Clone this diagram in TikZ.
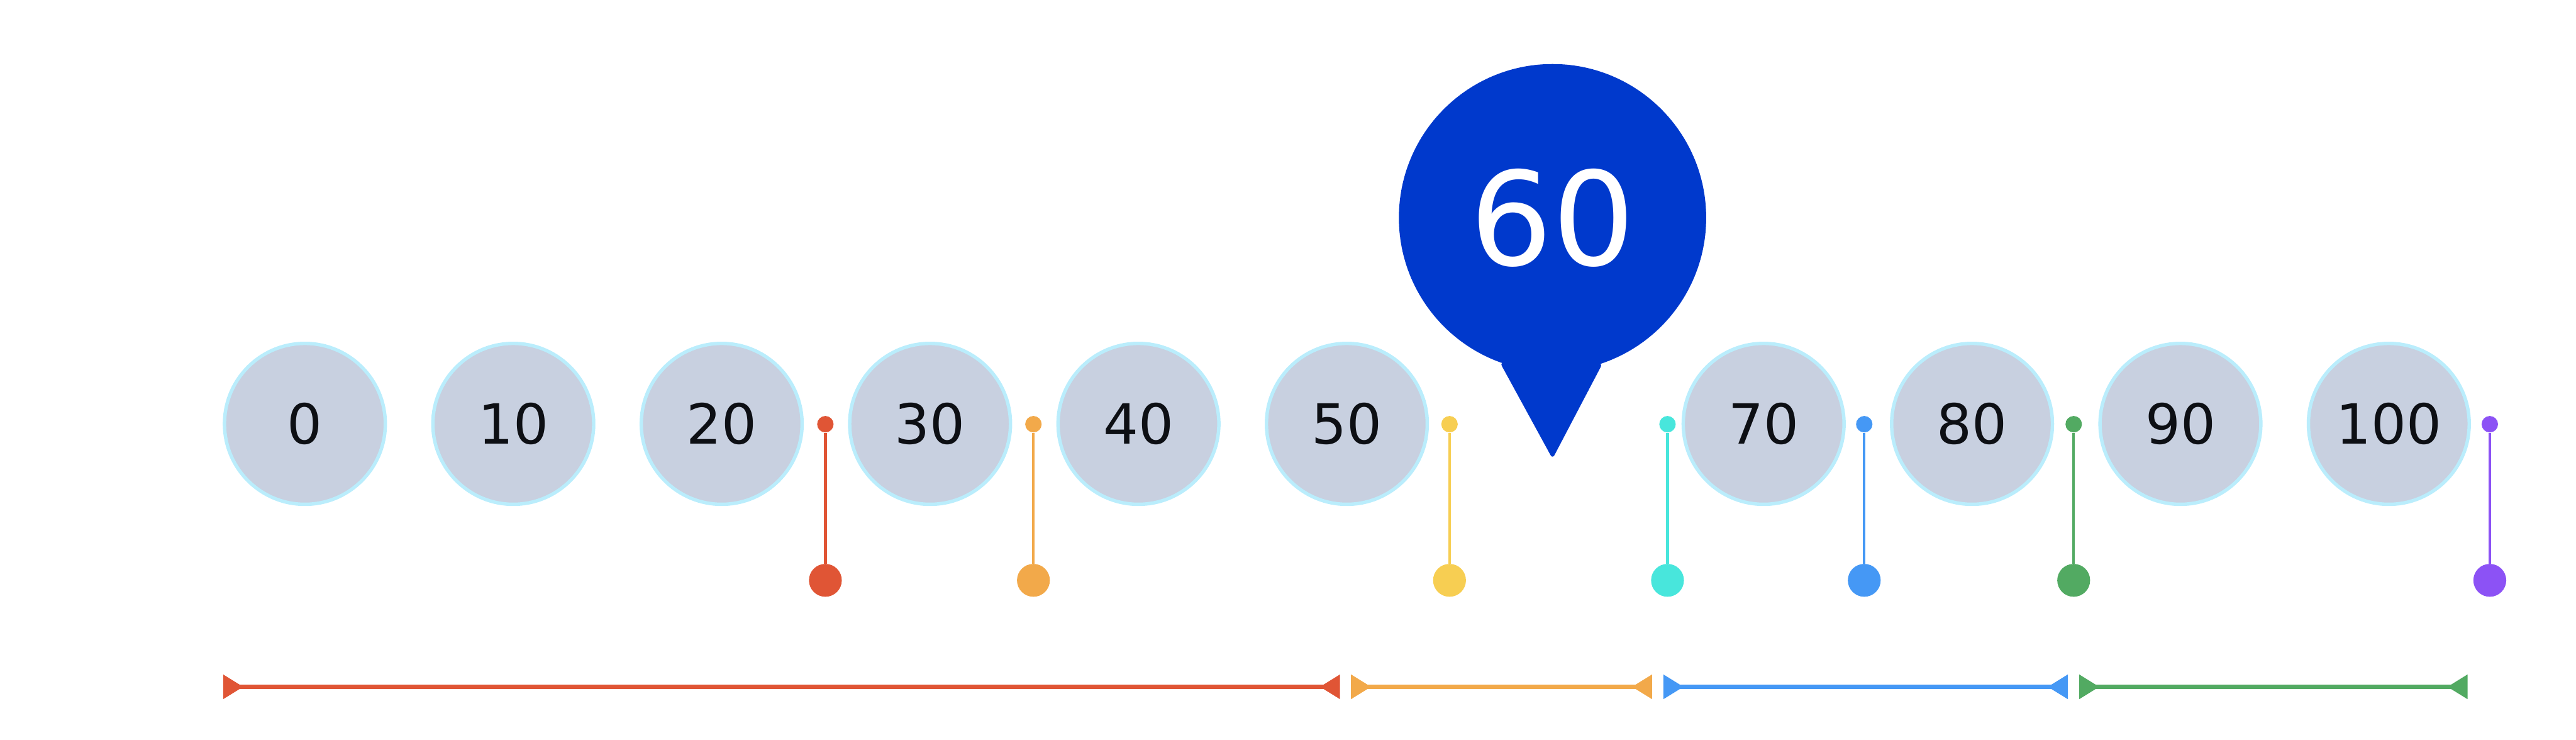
\documentclass[tikz,border=0pt]{standalone}
\usepackage{fontspec}
\setmainfont{DejaVu Sans}
\usepackage{tikz}
\usetikzlibrary{arrows.meta,positioning,calc}
\definecolor{ScaleFill}{HTML}{C8D0E0}
\definecolor{ScaleRing}{HTML}{BAEDFC}
\definecolor{ScaleInk}{HTML}{0D0F14}
\definecolor{ScalePin}{HTML}{0039CC}
\definecolor{ScaleRed}{HTML}{E05535}
\definecolor{ScaleOrange}{HTML}{F2A94A}
\definecolor{ScaleYellow}{HTML}{F7CE52}
\definecolor{ScaleTeal}{HTML}{48E6DC}
\definecolor{ScaleBlue}{HTML}{4598F5}
\definecolor{ScaleGreen}{HTML}{52AA62}
\definecolor{ScalePurple}{HTML}{8C52F5}

\begin{document}
\begin{tikzpicture}[
  every node/.style={font=\fontsize{46}{54}\selectfont},
  tick/.style={circle, draw=ScaleRing, fill=ScaleFill, line width=0.1cm, minimum size=4.7cm, inner sep=0pt, text=ScaleInk},
  pindot/.style={circle, fill=#1, inner sep=0pt, minimum size=0.48cm},
  pinbase/.style={circle, fill=#1, inner sep=0pt, minimum size=0.96cm},
  markline/.style={line width=0.08cm, color=#1},
  tag/.style={font=\fontsize{18}{22}\selectfont, text=white},
  bandline/.style={{Triangle[reversed,length=0.59cm,width=0.69cm]}-{Triangle[reversed,length=0.59cm,width=0.69cm]}, line width=0.12cm, color=#1}
]
\useasboundingbox (0,0) rectangle (75.28,-21.6);

% scale values
\foreach \v in {0,10,20,30,40,50,70,80,90,100}
  \node[tick] (t\v) at ({8.91+0.609*\v},-12.38) {\v};

% the score pin
\node[circle, fill=ScalePin, minimum size=8.98cm, inner sep=0pt, text=white, font=\fontsize{108}{120}\selectfont] (pin) at (45.37,-6.36) {60};
\coordinate (pintip) at (45.37,-13.40);
\fill[ScalePin, rounded corners=0.12cm] (pin.250.2) -- (pintip) -- (pin.289.8) -- cycle;

% adjective markers
\foreach \x/\c/\n/\txt in {24.12/ScaleRed/a/Worst imaginable, 30.20/ScaleOrange/b/Poor, 42.36/ScaleYellow/c/OK, 48.73/ScaleTeal/d/Truly remarkable, 54.48/ScaleBlue/e/Good, 60.60/ScaleGreen/f/Excellent, 72.76/ScalePurple/g/Best imaginable}{
  \node[pindot=\c] (s\n) at (\x,-12.39) {};
  \node[pinbase=\c] (b\n) at (\x,-16.95) {};
  \draw[markline=\c] (s\n) -- (b\n);
  \node[tag] (l\n) at (\x,-18.29) {\txt};
}

% acceptability ranges
\coordinate (r0) at (6.52,-20.06);
\coordinate (r1) at (39.16,-20.06);
\coordinate (r2) at (39.48,-20.06);
\coordinate (r3) at (48.28,-20.06);
\coordinate (r4) at (48.61,-20.06);
\coordinate (r5) at (60.43,-20.06);
\coordinate (r6) at (60.76,-20.06);
\coordinate (r7) at (72.11,-20.06);
\draw[bandline=ScaleRed] (r0) -- (r1);
\draw[bandline=ScaleOrange] (r2) -- (r3);
\draw[bandline=ScaleBlue] (r4) -- (r5);
\draw[bandline=ScaleGreen] (r6) -- (r7);
\node[tag] (na) at ($(r0)!0.5!(r1)+(0,-1.05)$) {Not acceptable};
\node[tag] (nb) at ($(r2)!0.5!(r3)+(0,-1.05)$) {Marginal};
\node[tag] (nc) at ($(r4)!0.5!(r5)+(0,-1.05)$) {OK};
\node[tag] (nd) at ($(r6)!0.5!(r7)+(0,-1.05)$) {Good};
\end{tikzpicture}
\end{document}
